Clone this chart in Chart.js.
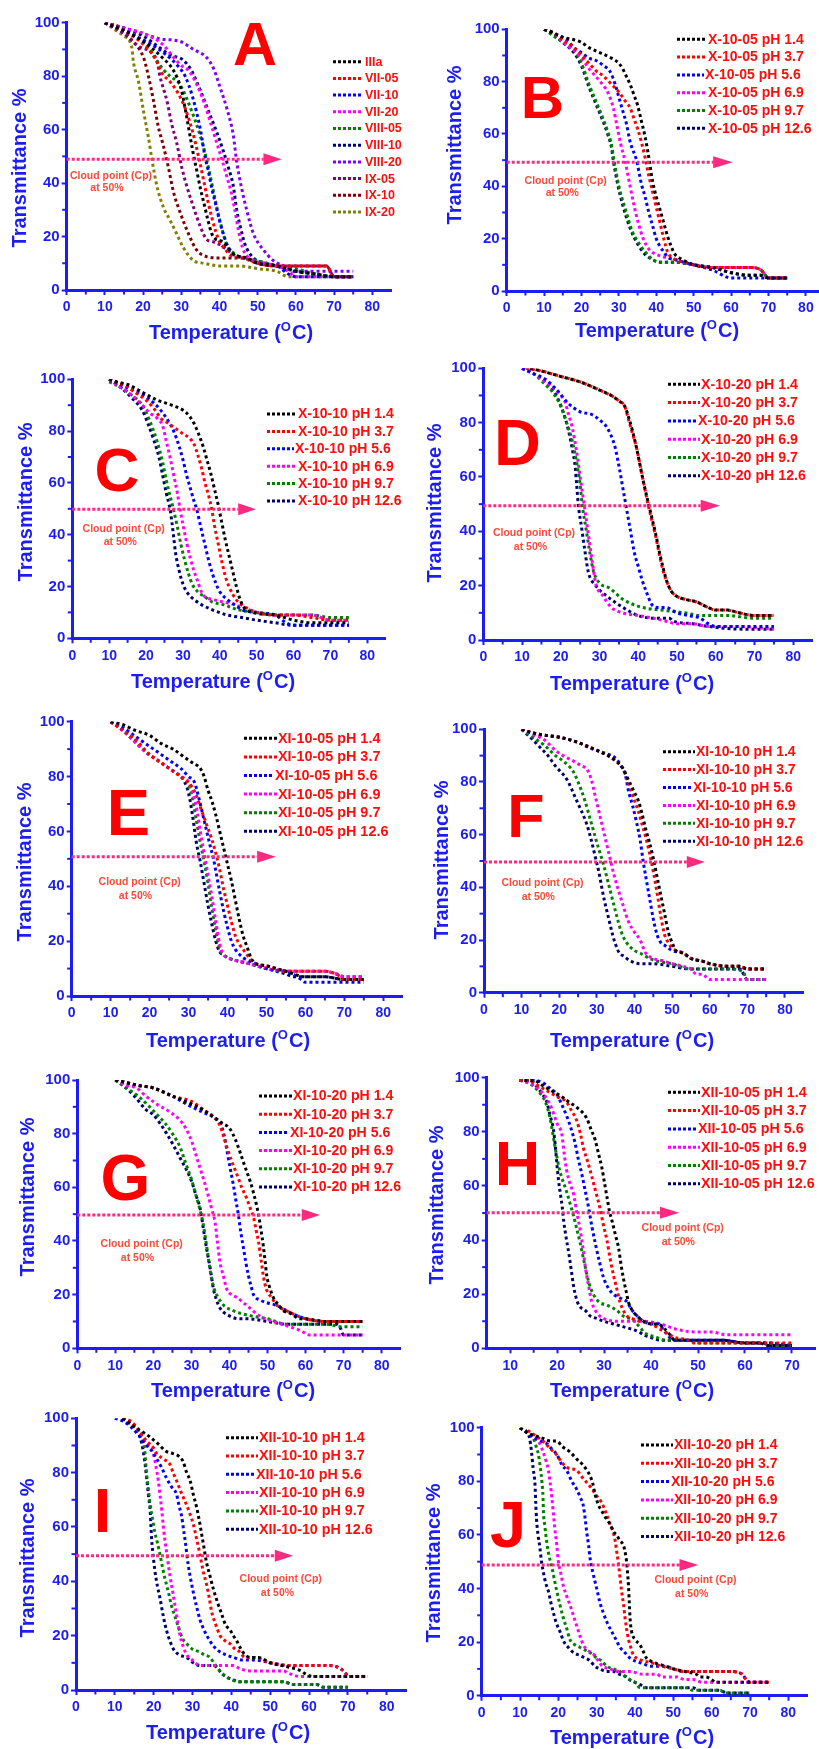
<!DOCTYPE html>
<html><head><meta charset="utf-8">
<script src="https://cdn.jsdelivr.net/npm/chart.js@4.4.1/dist/chart.umd.min.js"></script>
<style>
html,body{margin:0;padding:0;background:#fff;overflow:hidden;}
#wrap{position:relative;width:819px;height:1749px;overflow:hidden;background:#fff;}
#wrap canvas{position:absolute;}
</style></head><body><div id="wrap"></div>
<script>
// ---------- tick values ----------
const tempTicks = [0,10,20,30,40,50,60,70,80];
const tempTicksH = [10,20,30,40,50,60,70];
const tempMinor = [5,15,25,35,45,55,65,75];
const tempMinorH = [15,25,35,45,55,65];
const transTicks = [0,20,40,60,80,100];
const transMinor = [10,30,50,70,90];

// ---------- series names ----------
const namesA = ['IIIa','VII-05','VII-10','VII-20','VIII-05','VIII-10','VIII-20','IX-05','IX-10','IX-20'];
const pHs = ['1.4','3.7','5.6','6.9','9.7','12.6'];
const prefixes = {B:'X-10-05',C:'X-10-10',D:'X-10-20',E:'XI-10-05',F:'XI-10-10',G:'XI-10-20',H:'XII-10-05',I:'XII-10-10',J:'XII-10-20'};

// ---------- Panel A data [temperature, transmittance] ----------
const A_IIIa = [[10,100],[15,97],[20,93],[25,87],[28,82],[30,75],[31,68],[32,60],[33,52],[34,45],[35,38],[36,32],[37,26],[38,21],[39,19],[41,18],[42,16],[44,13],[47,12],[50,10],[55,9],[60,7],[65,6],[70,5],[75,5]];
const A_VII05 = [[10,100],[15,97],[20,92],[23,87],[25,81],[27,78],[29,74],[31,68],[33,59],[34.5,50],[36,40],[37,33],[38,27],[39,22],[40,18],[41,16],[43,13],[46,12],[50,10],[55,9],[60,9],[65,9],[68,9],[70,5],[75,5]];
const A_VII10 = [[10,100],[14,98],[18,95],[22,92],[26,88],[29,84],[31,80],[33,72],[35,60],[36.2,50],[37,45],[38,38],[39,32],[40,26],[41,21],[42,17],[44,13],[47,12],[50,10],[55,9],[58,6],[60,5],[75,5]];
const A_VII20 = [[10,100],[15,98],[20,96],[25,92],[28,87],[30,84],[32,82],[34,77],[36,70],[38,61],[39.5,54],[40.6,49],[42,42],[43,37],[44,30],[45,22],[46,16],[47,13],[49,11],[52,10],[55,9],[58,7],[60,5],[75,5]];
const A_VIII05 = [[10,100],[15,97],[20,93],[23,87],[25,83],[27,80],[29,78],[30,76],[32.7,67],[34.9,58],[36.6,49],[38.4,37],[40.1,26],[41.9,17],[43.6,14],[46,12],[50,11],[55,9],[60,8],[65,6],[70,5],[75,5]];
const A_VIII10 = [[10,100],[15,98],[20,95],[24,91],[27,88],[30.5,86],[32.7,82],[34.9,75],[37.1,67],[39.3,59],[41,52],[42.3,46],[43.6,39],[44.5,30],[45.4,24],[46.7,17],[48.9,12],[52,10],[55,9],[60,7],[65,6],[70,5],[75,5]];
const A_VIII20 = [[10,100],[15,98],[20,96],[24.4,94],[29.7,93],[33.2,90],[36.6,87],[38.4,83],[40.1,76],[41.9,68],[43.6,58],[44.5,48],[45.8,38],[47.1,30],[48.9,21],[51.5,15],[54.1,11],[57.6,8.5],[59.3,7],[65,7],[75,7]];
const A_IX05 = [[10,100],[15,96],[19,91],[23.6,86],[24.4,80],[26.2,71],[27.5,62],[28.8,55],[30.1,46],[31.4,39],[33.2,31],[34.9,24],[36.6,19],[38.4,18],[40,17],[42,15],[44,13],[47,12],[50,10],[55,9],[60,9],[65,9],[68,9],[70,5],[75,5]];
const A_IX10 = [[10,100],[15,96],[18,92],[20.1,87],[21.4,80],[22.7,71],[24,61],[25.3,54],[26.6,46],[27.9,37],[29.7,29],[31.9,21],[34,15],[36.6,12.5],[40,12],[43,12],[46,12],[50,10],[55,9],[60,9],[65,9],[68,9],[70,5],[75,5]];
const A_IX20 = [[10,100],[13,97],[15,95],[17,91],[17.5,85],[18.8,78],[20.1,67],[21.4,57],[22.3,49],[23.6,39],[25.3,31],[27.1,26],[28.8,21],[30.5,16],[33.2,11],[36,10],[40,9],[45,9],[50,8],[55,7],[58,5],[75,5]];

// ---------- Panel B (X-10-05) ----------
const B_pH14 = [[10,100],[12,99],[15,97],[18,96],[20,95],[22,93],[25,91],[28,89],[30,87],[31,85],[32,82],[33,79],[34,75],[35,71],[36,65],[37,59],[38,51],[39,42],[40,36],[41,31],[42,26],[43,21],[44,17],[45,14],[47,12],[50,10],[55,9],[60,7],[65,6],[68,6],[70,5],[75,5]];
const B_pH37 = [[10,100],[12,99],[15,96],[18,93],[20,90],[22,87],[24,84],[26,82],[28,79],[30,76],[32,72],[33,70],[34,66],[35,62],[36,57],[37,51],[38,44],[39,38],[40,32],[41,26],[42,20],[43,15],[45,12],[48,11],[50,10],[55,9],[60,9],[65,9],[68,8],[70,5],[75,5]];
const B_pH56 = [[10,100],[13,98],[16,96],[18,93],[20,91],[22,89],[24,88],[26,86],[27.6,84],[29,79],[30,74],[31,69],[32,64],[33,57],[34.7,50],[36,41],[37,36],[38,30],[39,25],[40,20],[41,17],[42,15],[43,13],[45,12],[50,10],[55,8],[60,5],[75,5]];
const B_pH69 = [[10,100],[13,98],[16,94],[18,92],[20,89],[22,85],[25,80],[27,76],[28.5,70],[29.5,63],[30.5,56],[31.6,50],[33,40],[34,33],[35,27],[36.5,20],[38,16],[40,14],[42,13],[45,12],[50,10],[55,9],[60,9],[65,9],[68,8],[70,5],[75,5]];
const B_pH97 = [[10,100],[12,98],[15,95],[18,92],[20,87],[22,79],[24,72],[26,65],[27,61],[28,56],[28.7,50],[30,40],[32,30],[33.5,23],[35,19],[37,15],[39,12],[41,11],[45,11],[50,10],[55,9],[60,9],[65,9],[68,8],[70,5],[75,5]];
const B_pH126 = [[10,100],[12,99],[15,95],[18,91],[20,86],[22,78],[24,71],[26,64],[27,60],[28,55],[28.5,50],[29.5,42],[31,33],[33,24],[35,18],[37,14],[39,12],[41,11],[45,11],[50,10],[55,9],[60,7],[65,6],[68,6],[70,5],[75,5]];

// ---------- Panel C (X-10-10) ----------
const C_pH14 = [[10,100],[12,99],[15,98],[19,95],[23,92],[27,90],[31,87],[33,83],[34.5,78],[35.5,74],[36.5,69],[37.5,64],[38.5,58],[39.5,52],[40.5,45],[41.5,38],[42.5,32],[43.5,26],[44.5,20],[45.5,15],[46.5,12],[49,10],[55,9],[60,7],[65,6],[70,6],[75,6]];
const C_pH37 = [[10,100],[12,99],[15,97],[18,94],[20,92],[22,89],[24,85],[26,83],[28,81],[30,79],[32,77],[33,75],[34,71],[35,66],[36,60],[37,55],[37.8,50],[38.5,44],[39.5,37],[40.5,30],[41.5,24],[42.5,20],[43.5,17],[45,14],[47,12],[50,10],[55,9],[60,9],[65,8],[70,7],[75,7]];
const C_pH56 = [[10,100],[13,98],[16,96],[19,94],[22,91],[24,88],[26,84],[27.5,80],[29,74],[30,69],[31,63],[32,58],[33,53],[33.7,50],[35,42],[36,36],[37,30],[38,25],[39,21],[40,18],[42,15],[44,13],[46,11],[50,10],[55,9],[58,6],[60,5],[75,5]];
const C_pH69 = [[10,100],[13,97],[16,94],[19,90],[21,87],[23,85],[24.5,82],[25.5,76],[26.5,70],[27.5,63],[28.5,56],[29.2,50],[30,44],[31,37],[32,31],[33,26],[34,22],[35,18],[36,16],[38,15],[41,14],[44,13],[46,12],[50,10],[55,9],[60,9],[65,9],[70,7],[75,7]];
const C_pH97 = [[10,99],[13,97],[16,94],[19,90],[21,84],[23,76],[24.5,68],[25.5,61],[26.5,55],[27.4,50],[28.5,43],[29.5,36],[30.5,30],[31.5,25],[32.5,21],[34,18],[36,16],[38,14],[41,13],[45,11],[50,10],[55,9],[60,9],[65,9],[70,8],[75,8]];
const C_pH126 = [[10,100],[13,97],[16,93],[19,88],[20.5,83],[22,77],[23.5,70],[24.5,63],[25.5,56],[26.5,50],[27,45],[27.5,39],[28,33],[29,26],[30,21],[31,18],[33,15],[35,13],[38,11],[42,9],[46,8],[50,7],[55,6],[60,5],[65,5],[70,5],[75,5]];

// ---------- Panel D (X-10-20) ----------
const D_pH14 = [[12,100],[15,99],[20,97],[25,95],[30,92],[33,90],[35,88],[36.5,86],[37.5,82],[38.5,77],[39.5,71],[40.5,64],[41.5,57],[42.5,51],[43.5,45],[44.5,39],[45.5,32],[46.5,26],[47.5,21],[48.5,18],[50,16],[52,15],[55,14],[58,12],[60,11],[63,11],[66,10],[70,9],[75,9]];
const D_pH37 = [[11,100],[15,99],[20,97],[25,95],[30,92],[33,90],[35,88],[36.5,86],[37.5,81],[38.5,76],[39.5,71],[40.5,64],[41.5,57],[42.5,50],[43.5,44],[44.5,38],[45.5,31],[46.5,25],[47.5,21],[48.5,18],[50,16],[52,15],[55,14],[58,12],[60,11],[63,11],[66,10],[70,9],[75,9]];
const D_pH56 = [[10,100],[13,98],[16,96],[19,92],[22,87],[25,84],[28,83],[30,81],[32,78],[34,71],[35,64],[36,56],[37,48],[38,40],[39,32],[40,27],[41,22],[42,18],[43.5,13],[45,12],[47,12],[50,10],[53,9],[56,8],[58,6],[60,5],[65,5],[75,5]];
const D_pH69 = [[10,100],[13,98],[16,95],[18,93],[20,90],[21,88],[22,83],[23,78],[24,70],[25,60],[26,50],[27,40],[28,30],[29,21],[31,16],[33,12],[36,10],[40,9],[44,8],[47,7],[50,6],[54,6],[58,5],[65,5],[75,4]];
const D_pH97 = [[10,100],[13,98],[16,94],[18,91],[20,86],[21.5,80],[23,73],[24,66],[25,57],[25.5,50],[26.5,41],[27.5,32],[28.5,25],[30,21],[32.7,19],[36,15],[41,12],[46,11],[52,10],[56,9],[63,9],[70,8],[75,8]];
const D_pH126 = [[10,100],[13,98],[16,95],[18,92],[19.5,88],[20.6,84],[22,77],[23,70],[23.7,64],[24.1,57],[24.5,50],[25.4,41],[26.2,33],[27.1,25],[29,20],[32,16],[36,12],[40,9],[44,8],[48,8],[49,7],[54,6],[58,5],[67,4],[75,4]];

// ---------- Panel E (XI-10-05) ----------
const E_pH14 = [[10,100],[13,99],[16,97],[20,95],[23,92],[26,90],[29,87],[31,85],[33,83],[34,80],[35,75],[36,71],[37,66],[38,60],[39,54],[40,48],[41,42],[42,35],[43,28],[44,22],[45,18],[46,14],[47,12],[50,11],[55,9],[60,7],[65,7],[70,6],[75,6]];
const E_pH37 = [[10,100],[13,97],[16,94],[18,91],[20,88],[23,85],[26,82],[29,79],[31,76],[32,73],[33,69],[34,65],[35,61],[36,57],[37,52],[38,46],[39,39],[40,33],[41,27],[42,22],[43,19],[44,17],[45,15],[47,12],[50,11],[55,9],[60,9],[65,9],[68,8],[70,6],[75,6]];
const E_pH56 = [[10,100],[13,98],[16,95],[18,93],[20,91],[23,88],[26,85],[28,83],[30,80],[31.5,78],[32.5,73],[33.5,67],[34.5,61],[35.5,55],[36.4,50],[37.2,44],[38,38],[39,31],[40,25],[41,20],[42,17],[44,14],[47,12],[50,10],[55,9],[58,7],[60,5],[65,5],[75,5]];
const E_pH69 = [[10,100],[13,97],[16,93],[19,89],[22,86],[25,83],[28,80],[30,78],[31,74],[32,69],[33,60],[34,52],[35,44],[36,36],[37,27],[38,19],[39,15],[40,14],[42,13],[45,12],[50,10],[55,9],[60,9],[65,9],[68,8],[70,7],[75,7]];
const E_pH97 = [[10,100],[13,97],[16,93],[19,89],[22,86],[25,83],[28,80],[30,77],[31,72],[32,64],[33,56],[34,49],[35,41],[36,32],[37,24],[38,17],[39,15],[40,14],[42,13],[45,12],[50,10],[55,9],[60,9],[65,9],[68,8],[70,7],[75,7]];
const E_pH126 = [[10,100],[13,97],[16,93],[19,89],[22,86],[25,83],[28,80],[29,78],[30,74],[31,66],[32,56],[33,49],[34,41],[35,33],[36,26],[37,20],[38,16],[39,15],[40,14],[42,13],[45,12],[50,10],[55,8],[57,7],[60,7],[65,7],[70,6],[75,6]];

// ---------- Panel F (XI-10-10) ----------
const F_pH14 = [[10,100],[12,99],[15,98],[20,97],[25,95],[30,92],[33,90],[35,88],[37,85],[38,82],[39,79],[40,76],[41,73],[42,68],[43,62],[44,57],[45,51],[46,44],[47,37],[48,30],[49,23],[50,19],[51,16],[53,15],[55,13],[58,12],[60,11],[65,10],[68,10],[70,9],[75,9]];
const F_pH37 = [[10,100],[12,99],[15,98],[20,97],[25,95],[30,92],[33,90],[35,88],[37,85],[38,81],[39,77],[40,73],[41,69],[42,64],[43,59],[44,53],[45,46],[46,38],[47,29],[48,22],[49,19],[50,17],[53,15],[55,13],[58,12],[60,11],[65,10],[68,10],[70,9],[75,9]];
const F_pH56 = [[10,100],[12,99],[15,98],[20,97],[25,95],[28,93],[32,91],[35,89],[36.5,86],[37.5,83],[38.5,76],[39.5,71],[40.5,65],[41.5,58],[42.3,50],[43,44],[44,36],[45,28],[46,22],[47,19],[48,18],[50,16],[53,15],[55,13],[58,12],[60,11],[65,10],[68,10],[70,9],[75,9]];
const F_pH69 = [[10,100],[13,98],[16,96],[19,92],[21,90],[23.7,88],[26,86],[27.3,85],[28.5,81],[29.5,75],[30.5,69],[31.5,63],[32.5,57],[33.5,51],[34.5,45],[35.7,39],[37,33],[38.4,27],[40,23],[41.5,20],[43,15],[45,13],[47.7,12],[50,11],[53,10],[55,9],[56.5,7],[58,7],[60,5],[75,5]];
const F_pH97 = [[10,100],[13,97],[16,94],[19,90],[21,88],[23.7,84],[25,80],[26.8,73],[28.6,64],[30.4,55],[31.7,49],[33.5,39],[35.3,29],[36.5,23],[37.9,19],[40,16],[41.5,15],[44,13],[46,12],[50,11],[52,10],[55,9],[60,9],[65,9],[68.9,8],[69.8,5],[75,5]];
const F_pH126 = [[10,100],[13,96],[15,93],[17,90],[19,86],[22,81],[24.6,73],[27.3,64],[28.5,58],[29.5,52],[30.5,46],[31.3,40],[32,35],[33,29],[34,23],[34.8,19],[36,15],[37,14],[39,12],[41.5,11],[45,11],[50,10],[55,9],[60,9],[65,9],[68,9],[70,5],[75,5]];

// ---------- Panel G (XI-10-20) ----------
const G_pH14 = [[10,100],[13,99],[16,98],[20,97],[25,94],[30,91],[33,89],[36,86],[38,84],[40,82],[41.5,78],[42.8,73],[44,68],[45.5,62],[46.3,58],[47,54],[47.6,50],[48.3,44],[48.9,38],[49.4,32],[49.8,27],[50.5,23],[51.5,19],[53,16],[54.2,14],[56,13],[58.5,11],[60,11],[65,10],[70,10],[75,10]];
const G_pH37 = [[10,100],[13,99],[16,98],[20,97],[25,94],[30,92],[33,89],[36,86],[37.5,83],[39.3,75],[40.5,70],[41.9,65],[43.2,60],[44.5,56],[45.5,52],[46.3,49],[47,44],[47.6,40],[48.3,33],[48.9,27],[49.7,22],[51,19],[52.5,16],[55,14],[58,12],[60,11],[65,10],[70,10],[75,10]];
const G_pH56 = [[10,100],[13,99],[16,98],[20,97],[25,94],[30,90],[33,88],[36,86],[37.5,84],[38.5,80],[39.3,74],[40.2,67],[41,61],[41.7,55],[42.3,50],[43,43],[43.6,38],[44.3,32],[45,27],[45.7,23],[46.3,20],[48,18],[49.8,17],[52.4,16],[55,14],[58,12],[60,11],[65,10],[70,10],[75,10]];
const G_pH69 = [[10,100],[13,98],[15.6,97],[18,94],[20.9,91],[24.4,88],[27,85],[28.5,82],[30.1,77],[31.2,72],[32.3,67],[33.4,62],[34.4,57],[35.3,52],[36.2,47],[36.8,40],[37.5,32],[38.4,27],[39.3,22],[40.5,20],[41.9,19],[44.5,16],[48,12],[51.5,10],[55.9,8],[58,7],[59.4,6],[61,5],[75,5]];
const G_pH97 = [[10,100],[13,97],[16,94],[19,90],[21,87],[23,84],[25,80],[27,75],[28,71],[29,67],[30,63],[31,58],[32,53],[33,47],[33.7,41],[34.5,33],[35.3,26],[36,22],[37,19],[38.5,16],[41,14],[43,13],[46,12],[50,11],[55,9],[60,9],[65,9],[70,8],[75,8]];
const G_pH126 = [[10,100],[12,98],[15,94],[18,89],[20,87],[23.5,80],[27,71],[30.1,62],[31.2,57],[32.3,52],[33.2,44],[34,37],[34.9,30],[35.8,22],[36.6,18],[37.5,15],[40.1,12],[42.8,11],[45,11],[50,10],[55,9],[60,9],[65,9],[68,9],[69,8],[70,5],[75,5]];

// ---------- Panel H (XII-10-05) ----------
const H_pH14 = [[13,99],[15,99],[17,97],[19,95],[21,93],[22.5,91],[24.2,89],[26.3,85],[27.2,81],[28.1,77],[28.8,72],[29.5,67],[30.1,61],[30.6,56],[31.1,51],[31.7,47],[32.4,42],[33.1,37],[33.6,31],[34.1,26],[34.7,21],[35.2,17],[36,14],[37,12],[38.4,10],[40,9],[41.5,9],[43,7],[44,5],[45,3],[50,3],[55,3],[60,2],[63,2],[65,1],[70,1]];
const H_pH37 = [[12,99],[14,99],[16,97],[18,95],[20,93],[22,91],[23,88],[24.2,84],[25,79],[25.6,74],[26.5,69],[27.3,64],[28.2,58],[29.1,52],[29.8,46],[30.6,40],[31.3,33],[32,27],[32.7,22],[33.4,17],[34.1,14],[34.8,12],[36,11],[37.6,10],[40,9],[42,7],[44,5],[45,4],[48,3],[49,2],[55,2],[60,2],[65,2],[70,2]];
const H_pH56 = [[12,99],[15,99],[17.1,98],[18.5,96],[19.9,94],[21,90],[22,86],[23,81],[23.8,76],[24.5,70],[25.3,64],[26,58],[26.7,52],[27.4,45],[28.1,39],[29,32],[29.9,26],[31,22],[32,20],[34.1,18],[35,17],[35.6,15],[37,12],[38.4,10],[40,9],[41.5,9],[43,6],[44,4],[45,3],[50,3],[55,3],[60,2],[65,2],[70,1]];
const H_pH69 = [[12,99],[14,98],[16,96],[17.5,93],[18.5,90],[19.2,87],[20,83],[21,79],[21.5,72],[22,66],[22.7,61],[23.5,57],[24.2,50],[24.9,44],[25.5,37],[26,30],[26.7,23],[27.4,17],[28.5,13],[29.9,11],[32.7,10],[35,10],[38.4,10],[42,9],[45.5,7],[49.7,6],[53,6],[56,5],[60,5],[65,5],[70,5]];
const H_pH97 = [[12,99],[14,98],[16,95],[17.5,91],[18.5,85],[19.5,75],[20.5,66],[21,63],[22,58],[23,52],[23.5,49],[24.2,44],[24.9,39],[25.5,34],[26,30],[26.8,24],[27.7,20],[29,17],[30.6,16],[32.7,14],[34,12],[35.5,11],[36.5,10],[37,9],[38,7],[38.4,6],[39.5,5],[41.2,4],[43,3],[48,3],[50,2],[60,2],[65,2],[67,1],[70,1]];
const H_pH126 = [[12,99],[14,99],[15.5,97],[16.8,94],[17.8,91],[18.5,86],[19.2,81],[19.6,75],[19.9,69],[20.3,62],[20.7,57],[21.1,52],[21.4,47],[22,40],[22.5,35],[23,29],[23.5,23],[24,19],[24.6,16],[26,14],[27,12],[28.5,11],[30,10],[32,9],[34,8],[36,7],[37.5,6],[38.4,5],[40,4],[42,3],[50,3],[55,3],[60,2],[64,2],[65,1],[70,1]];

// ---------- Panel I (XII-10-10) ----------
const I_pH14 = [[12,100],[14,98],[16,96],[18.2,94],[20,92],[21.6,90],[23,88],[25,87],[26.5,86],[27.6,84],[28.5,80],[29.4,77],[30.2,72],[31.1,67],[31.8,62],[32.4,57],[33,52],[33.6,47],[34.5,42],[35.4,37],[36.5,32],[37.5,28],[38.5,24],[39.7,22],[40.5,20],[41.4,18],[42.5,15],[43.5,13],[45,12],[47,12],[50,10],[53,9],[56,8],[58,7],[59,6],[61,5],[65,5],[70,5],[75,5]];
const I_pH37 = [[12,100],[14,99],[16,96],[18,92],[20,89],[20.8,87],[22.5,85],[24.2,83],[25,80],[25.9,77],[27,73],[28.5,68],[29.3,65],[30.2,61],[31,56],[31.9,50],[32.7,44],[33.6,39],[34.3,34],[34.9,29],[36,24],[37.1,20],[38.5,18],[39.7,17],[41,15],[42.2,14],[43.5,12],[46,12],[50,10],[55,9],[60,9],[65,9],[68,8],[69.5,6],[70,5],[75,5]];
const I_pH56 = [[10,100],[12,99],[14,97],[16,94],[18.2,90],[19.5,88],[20.8,85],[22,82],[23.3,78],[24.5,75],[25.9,72],[26.5,68],[27.2,64],[27.7,59],[28.1,55],[28.9,46],[29.5,41],[30.2,36],[31,31],[31.9,26],[33,22],[34.5,18],[35.5,16],[37.1,14],[38.5,13],[40.5,12],[43,11],[46,11],[50,10],[55,9],[60,9],[65,9],[68,8],[69.5,6],[70,5],[75,5]];
const I_pH69 = [[12,100],[14,98],[16,95],[17.5,92],[18.5,90],[19.9,87],[20.5,83],[21.2,77],[21.7,71],[22.1,66],[22.5,60],[22.9,55],[23.5,49],[24.2,42],[24.8,37],[25.5,31],[26.2,25],[26.8,20],[27.6,16],[28.5,13],[30,11],[31.9,9],[35,9],[40.5,9],[42,8],[44.8,7],[50,7],[53.4,7],[55,6],[57.7,5],[65,5],[75,5]];
const I_pH97 = [[12,100],[14,98],[15.5,96],[17,93],[17.7,88],[18.2,79],[18.7,73],[19.1,68],[19.7,63],[20.3,58],[21,54],[21.6,50],[22.3,45],[22.9,41],[23.8,36],[24.6,31],[25.5,27],[26.4,23],[27.4,19],[28.5,17],[30,15],[31.9,14],[33,13],[34.5,12],[35.5,10],[37.1,7],[38.5,5],[39.7,4],[42.2,3],[50,3],[53.4,3],[56,2],[62,2],[63.7,1],[70,1]];
const I_pH126 = [[12,100],[14,98],[15.5,96],[16.5,93],[17.3,88],[17.8,83],[18.2,78],[18.7,71],[19.1,66],[19.3,60],[19.5,55],[19.9,49],[20.3,44],[21,38],[21.6,34],[22.5,27],[23.3,22],[24.2,18],[25.1,15],[26.5,13],[28.5,12],[30.2,10],[31.9,9],[33.5,9],[35.4,9],[36.5,8],[37.5,6],[38.5,5],[40,4],[42.2,3],[50,3],[53.4,3],[56,2],[62,2],[63.7,1],[70,1]];

// ---------- Panel J (XII-10-20) ----------
const J_pH14 = [[10,100],[12,98],[14,97],[16,96],[18,95],[19.6,95],[21,93],[23,91],[25,88],[26.5,86],[27.5,84],[28.3,82],[29,79],[29.6,75],[30.5,71],[31.3,69],[32.5,66],[33.5,64],[34.5,61],[35.2,60],[36,58],[37,56],[37.5,53],[37.8,50],[38.1,45],[38.3,41],[38.5,35],[38.7,29],[39.1,24],[40,21],[41.3,19],[42,17],[43,14],[44,13],[45.7,12],[48,11],[50,10],[53,9],[56,8],[57,7],[58.5,7],[60,6],[61,5],[65,5],[70,5],[75,5]];
const J_pH37 = [[12,99],[14,97],[16,95],[18,92],[19.5,90],[20.9,87],[22.5,85],[24.8,84],[26.5,81],[28.3,78],[29.8,75],[31.3,72],[32.5,68],[33.5,64],[34.3,61],[34.8,58],[35.3,53],[35.7,49],[36.1,44],[36.5,39],[37,34],[37.4,29],[37.8,25],[38.3,21],[38.9,18],[39.6,15],[40.5,14],[42.2,13],[45,12],[47,11],[50,10],[53,9],[55,9],[60,9],[65,9],[68,8],[69,6],[70,5],[75,5]];
const J_pH56 = [[10,100],[12,98],[14,96],[15.5,95],[17,94],[18.3,92],[19.6,90],[21,86],[22.2,84],[23.5,80],[24.8,77],[25.7,74],[26.5,71],[27,66],[27.4,61],[27.9,56],[28.3,51],[29,46],[30,40],[30.8,35],[31.7,31],[32.8,27],[33.9,24],[35,21],[36.1,18],[37.4,16],[38.7,14],[40,13],[42,12],[44,11],[46,11],[48,11],[50,10],[53,9],[55,9],[60,9],[65,9],[68,8],[69,6],[70,5],[75,5]];
const J_pH69 = [[10,100],[12,98],[14,96],[15.2,94],[16,91],[16.7,88],[17.4,84],[17.9,79],[18.3,74],[18.7,68],[19.1,62],[19.6,56],[20,50],[20.6,46],[21.3,41],[22.2,37],[23,34],[23.9,30],[24.8,26],[25.7,22],[26.5,19],[27.6,17],[28.7,16],[29.5,15],[30.4,13],[31.5,11],[33.5,10],[36,9],[38.7,9],[42,8],[45.7,8],[47,7],[50.9,7],[53,6],[55.2,6],[57.5,5],[60,5],[65,5],[70,5],[75,5]];
const J_pH97 = [[10,100],[12,98],[13.5,96],[14.2,93],[14.8,90],[15.3,85],[15.7,80],[16,74],[16.1,69],[16.5,63],[17,57],[17.6,52],[18.3,48],[19,43],[19.6,39],[20.4,34],[21.3,29],[22.2,25],[23,21],[24.3,19],[25.7,18],[27,17],[28.3,16],[29.3,15],[30,14],[31.3,13],[32.6,11],[34.3,10],[36.1,9],[37.5,7],[38.7,6],[40,5],[41.3,3],[45,3],[50,3],[53.5,3],[55,2],[57,2],[62.2,2],[63.5,1],[65,1],[70,1]];
const J_pH126 = [[10,100],[12,98],[12.5,96],[13,91],[13.4,85],[13.9,79],[14.1,72],[14.3,66],[14.7,60],[15.2,55],[15.6,50],[16.1,46],[16.7,42],[17.4,39],[18,35],[18.7,31],[19.5,27],[20.4,24],[21.5,20],[22.6,18],[24,16],[25.7,15],[27,14],[28.3,13],[29.5,11],[30.9,10],[32.5,9],[34.3,9],[36,8],[37.8,7],[38.5,6],[40,5],[41.5,4],[43,3],[50,3],[55,3],[57,2],[62,2],[64,1],[70,1]];

// ---------- styles ----------
const colorsA = ['#000000','#ff0000','#0000ff','#ff00ff','#008000','#000080','#8000ff','#800080','#800000','#808000'];
const colorsPH = ['#000000','#ff0000','#0000ff','#ff00ff','#008000','#000070'];
const BLUE = 'rgb(28,28,245)';
const PINK = '#ff2a80';
const RED = '#ff0d0d';
const CLOUD = '#ff4a3a';
const FONT = '"Liberation Sans", Arial, Helvetica, sans-serif';

// ---------- panel layout (page pixel coordinates) ----------
const panels = [
 {id:'A', series:[A_IIIa,A_VII05,A_VII10,A_VII20,A_VIII05,A_VIII10,A_VIII20,A_IX05,A_IX10,A_IX20], names:namesA, colors:colorsA,
  left:0, top:0, w:410, h:350, yAxisX:66.7, yTop:22.7, yBottom:290, xEnd:391.4, xmin:0, xmax:85,
  arrow:{y:48.9, head:51.5, tip:56.3}, letter:{cx:255, by:65, size:61},
  cloud:[[111,175.7],[107,188.3]], legend:{sx0:333, sx1:363, tx:365, y0:61.7, dy:16.7, fs:12.5, shift:-1},
  ytitle:[20,168], xtitle:[231,331.5]},
 {id:'B', series:[B_pH14,B_pH37,B_pH56,B_pH69,B_pH97,B_pH126],
  left:410, top:0, w:420, h:350, yAxisX:506.7, yTop:29.3, yBottom:291, xEnd:824.6, xmin:0, xmax:85,
  arrow:{y:49.2, head:55.2, tip:60.4}, letter:{cx:542.5, by:118, size:60},
  cloud:[[565.7,181],[562.3,193.3]], legend:{sx0:677, sx1:707, tx:708, y0:39.3, dy:17.8, fs:14, shift:2},
  ytitle:[455,145], xtitle:[657,330]},
 {id:'C', series:[C_pH14,C_pH37,C_pH56,C_pH69,C_pH97,C_pH126],
  left:0, top:350, w:410, h:350, yAxisX:72.3, yTop:379.3, yBottom:638.3, xEnd:385.7, xmin:0, xmax:85,
  arrow:{y:49.8, head:45, tip:49.8}, letter:{cx:117, by:491, size:62},
  cloud:[[123.7,529.3],[120.3,542]], legend:{sx0:267, sx1:297, tx:298, y0:414, dy:17.4, fs:14, shift:2},
  ytitle:[26,502], xtitle:[213,681]},
 {id:'D', series:[D_pH14,D_pH37,D_pH56,D_pH69,D_pH97,D_pH126],
  left:410, top:345, w:420, h:355, yAxisX:483.3, yTop:368.3, yBottom:640, xEnd:812.7, xmin:0, xmax:85,
  arrow:{y:49.4, head:56.1, tip:61.1}, letter:{cx:517.5, by:465, size:65},
  cloud:[[534,532.7],[530.5,546.7]], legend:{sx0:668, sx1:700, tx:701, y0:384.3, dy:18.3, fs:14.2, shift:2},
  ytitle:[435,503], xtitle:[632,683]},
 {id:'E', series:[E_pH14,E_pH37,E_pH56,E_pH69,E_pH97,E_pH126],
  left:0, top:700, w:410, h:355, yAxisX:71.7, yTop:721.7, yBottom:996, xEnd:402.8, xmin:0, xmax:85,
  arrow:{y:50.8, head:47.6, tip:52.4}, letter:{cx:128.5, by:835, size:65},
  cloud:[[139.7,882.3],[135.5,895.7]], legend:{sx0:244, sx1:277, tx:278, y0:738.3, dy:18.6, fs:14.4, shift:2},
  ytitle:[25,862], xtitle:[228,1040]},
 {id:'F', series:[F_pH14,F_pH37,F_pH56,F_pH69,F_pH97,F_pH126],
  left:410, top:700, w:420, h:355, yAxisX:484, yTop:729.3, yBottom:992.7, xEnd:803.8, xmin:0, xmax:85,
  arrow:{y:49.6, head:53.9, tip:58.7}, letter:{cx:526, by:837, size:61},
  cloud:[[542.5,883.3],[538.3,896.7]], legend:{sx0:663, sx1:695, tx:696, y0:751.7, dy:17.9, fs:14, shift:2},
  ytitle:[442,860], xtitle:[632,1040]},
 {id:'G', series:[G_pH14,G_pH37,G_pH56,G_pH69,G_pH97,G_pH126],
  left:0, top:1055, w:410, h:350, yAxisX:77.3, yTop:1080, yBottom:1348.3, xEnd:400.7, xmin:0, xmax:85,
  arrow:{y:49.7, head:59, tip:63.8}, letter:{cx:125.5, by:1200, size:64},
  cloud:[[141.7,1244.3],[137.5,1257.7]], legend:{sx0:259, sx1:292, tx:293, y0:1096, dy:18.2, fs:14.1, shift:2},
  ytitle:[28,1197], xtitle:[233,1390]},
 {id:'H', series:[H_pH14,H_pH37,H_pH56,H_pH69,H_pH97,H_pH126],
  left:410, top:1055, w:420, h:350, yAxisX:486.7, yTop:1077.7, yBottom:1348.3, xEnd:815.4, xmin:5, xmax:75,
  arrow:{y:50.1, head:41.9, tip:46}, letter:{cx:517.5, by:1185, size:63},
  cloud:[[682.7,1228.3],[678.3,1242.3]], legend:{sx0:668, sx1:700, tx:701, y0:1092.3, dy:18.3, fs:14.3, shift:2},
  ytitle:[437,1205], xtitle:[632,1390]},
 {id:'I', series:[I_pH14,I_pH37,I_pH56,I_pH69,I_pH97,I_pH126],
  left:0, top:1395, w:410, h:354, yAxisX:76, yTop:1418.3, yBottom:1690, xEnd:406.1, xmin:0, xmax:85,
  arrow:{y:49.4, head:51.2, tip:55.9}, letter:{cx:102.5, by:1532, size:63},
  cloud:[[280.7,1579.3],[277.5,1593.3]], legend:{sx0:226, sx1:258, tx:259, y0:1437.7, dy:18.3, fs:14.3, shift:2},
  ytitle:[28,1558], xtitle:[228,1732]},
 {id:'J', series:[J_pH14,J_pH37,J_pH56,J_pH69,J_pH97,J_pH126],
  left:410, top:1395, w:420, h:354, yAxisX:481.7, yTop:1427.7, yBottom:1695.7, xEnd:807.5, xmin:0, xmax:85,
  arrow:{y:48.8, head:51.6, tip:56.5}, letter:{cx:508, by:1547, size:65},
  cloud:[[695.5,1580],[691.7,1594]], legend:{sx0:641, sx1:673, tx:674, y0:1445, dy:18.3, fs:14, shift:2},
  ytitle:[434,1563], xtitle:[632,1737]}
];

function decoPlugin(p) {
  return {
    id: 'deco' + p.id,
    afterDraw(chart) {
      const ctx = chart.ctx, xs = chart.scales.x, ys = chart.scales.y, ca = chart.chartArea;
      const X = v => v - p.left, Y = v => v - p.top;
      ctx.save();
      // minor ticks
      ctx.strokeStyle = BLUE; ctx.lineWidth = 2;
      const xMinor = p.id === 'H' ? tempMinorH : tempMinor;
      xMinor.forEach(v => {
        const px = xs.getPixelForValue(v);
        ctx.beginPath(); ctx.moveTo(px, ca.bottom + 1); ctx.lineTo(px, ca.bottom + 4.5); ctx.stroke();
      });
      transMinor.forEach(v => {
        const py = ys.getPixelForValue(v);
        ctx.beginPath(); ctx.moveTo(ca.left - 1, py); ctx.lineTo(ca.left - 4.5, py); ctx.stroke();
      });
      // cloud point arrow
      const ay = ys.getPixelForValue(p.arrow.y);
      const ax0 = xs.getPixelForValue(p.xmin), ax1 = xs.getPixelForValue(p.arrow.head), ax2 = xs.getPixelForValue(p.arrow.tip);
      ctx.strokeStyle = PINK; ctx.lineWidth = 3; ctx.setLineDash([3, 2]);
      ctx.beginPath(); ctx.moveTo(ax0, ay); ctx.lineTo(ax1, ay); ctx.stroke();
      ctx.setLineDash([]);
      ctx.fillStyle = PINK;
      ctx.beginPath(); ctx.moveTo(ax1, ay - 6); ctx.lineTo(ax2, ay); ctx.lineTo(ax1, ay + 6); ctx.closePath(); ctx.fill();
      // cloud point text
      ctx.fillStyle = CLOUD; ctx.font = 'bold 10.5px ' + FONT; ctx.textAlign = 'center'; ctx.textBaseline = 'middle';
      ctx.fillText('Cloud point (Cp)', X(p.cloud[0][0]), Y(p.cloud[0][1]));
      ctx.fillText('at 50%', X(p.cloud[1][0]), Y(p.cloud[1][1]));
      // legend
      const lg = p.legend;
      chart.data.datasets.forEach((ds, i) => {
        const y = Y(lg.y0 + i * lg.dy);
        const off = (i === lg.shift) ? -3 : 0;
        ctx.strokeStyle = ds.borderColor; ctx.lineWidth = 3; ctx.setLineDash([3, 2]);
        ctx.beginPath(); ctx.moveTo(X(lg.sx0), y); ctx.lineTo(X(lg.sx1) + off, y); ctx.stroke();
        ctx.setLineDash([]);
        ctx.fillStyle = RED; ctx.font = 'bold ' + lg.fs + 'px ' + FONT; ctx.textAlign = 'left'; ctx.textBaseline = 'middle';
        ctx.fillText(ds.label, X(lg.tx) + off, y + 0.5);
      });
      // panel letter
      ctx.fillStyle = '#ff0000'; ctx.font = 'bold ' + p.letter.size + 'px ' + FONT;
      ctx.textAlign = 'center'; ctx.textBaseline = 'alphabetic';
      ctx.fillText(p.id, X(p.letter.cx), Y(p.letter.by));
      // y title
      ctx.fillStyle = BLUE; ctx.font = 'bold 20px ' + FONT;
      ctx.save();
      ctx.translate(X(p.ytitle[0]), Y(p.ytitle[1]));
      ctx.rotate(-Math.PI / 2);
      ctx.textAlign = 'center'; ctx.textBaseline = 'middle';
      ctx.fillText('Transmittance %', 0, 0);
      ctx.restore();
      // x title with superscript O
      const t1 = 'Temperature (', t2 = 'O', t3 = 'C)';
      ctx.font = 'bold 20px ' + FONT;
      const w1 = ctx.measureText(t1).width, w3 = ctx.measureText(t3).width;
      ctx.font = 'bold 13px ' + FONT;
      const w2 = ctx.measureText(t2).width + 1;
      const total = w1 + w2 + w3;
      let x = X(p.xtitle[0]) - total / 2;
      const base = Y(p.xtitle[1]) + 7;
      ctx.textAlign = 'left'; ctx.textBaseline = 'alphabetic';
      ctx.font = 'bold 20px ' + FONT; ctx.fillText(t1, x, base); x += w1;
      ctx.font = 'bold 13px ' + FONT; ctx.fillText(t2, x, base - 8); x += w2;
      ctx.font = 'bold 20px ' + FONT; ctx.fillText(t3, x, base);
      ctx.restore();
    }
  };
}

const wrap = document.getElementById('wrap');
panels.forEach(p => {
  const cv = document.createElement('canvas');
  cv.width = p.w; cv.height = p.h;
  cv.style.left = p.left + 'px'; cv.style.top = p.top + 'px';
  cv.style.width = p.w + 'px'; cv.style.height = p.h + 'px';
  wrap.appendChild(cv);
  const names = p.names || pHs.map(v => prefixes[p.id] + ' pH ' + v);
  const colors = p.colors || colorsPH;
  const xt = p.id === 'H' ? tempTicksH : tempTicks;
  new Chart(cv, {
    type: 'line',
    data: {
      datasets: p.series.map((s, i) => ({
        label: names[i], data: s, borderColor: colors[i], backgroundColor: colors[i],
        borderWidth: 3, borderDash: [3, 3], pointRadius: 0, fill: false,
        cubicInterpolationMode: 'monotone'
      }))
    },
    options: {
      responsive: false, animation: false, devicePixelRatio: 1,
      events: [],
      layout: {padding: {top: p.yTop - p.top, right: p.left + p.w - p.xEnd, left: 0, bottom: 0}},
      plugins: {legend: {display: false}, tooltip: {enabled: false}, title: {display: false}},
      scales: {
        x: {
          type: 'linear', bounds: 'data', min: p.xmin, max: p.xmax,
          afterBuildTicks: s => { s.ticks = xt.map(v => ({value: v})); },
          afterFit: s => { s.height = p.top + p.h - p.yBottom; },
          grid: {drawOnChartArea: false, drawTicks: true, tickLength: 5, tickWidth: 2, tickColor: BLUE, color: BLUE},
          border: {display: true, color: BLUE, width: 3},
          ticks: {color: BLUE, font: {family: FONT, size: 14, weight: 'bold'}, padding: 4, maxRotation: 0, autoSkip: false, includeBounds: false}
        },
        y: {
          type: 'linear', bounds: 'data', min: 0, max: 100,
          afterBuildTicks: s => { s.ticks = transTicks.map(v => ({value: v})); },
          afterFit: s => { s.width = p.yAxisX - p.left; },
          grid: {drawOnChartArea: false, drawTicks: true, tickLength: 5, tickWidth: 2, tickColor: BLUE, color: BLUE},
          border: {display: true, color: BLUE, width: 3},
          ticks: {color: BLUE, font: {family: FONT, size: 15, weight: 'bold'}, padding: 2, autoSkip: false, includeBounds: false}
        }
      }
    },
    plugins: [decoPlugin(p)]
  });
});
</script></body></html>
